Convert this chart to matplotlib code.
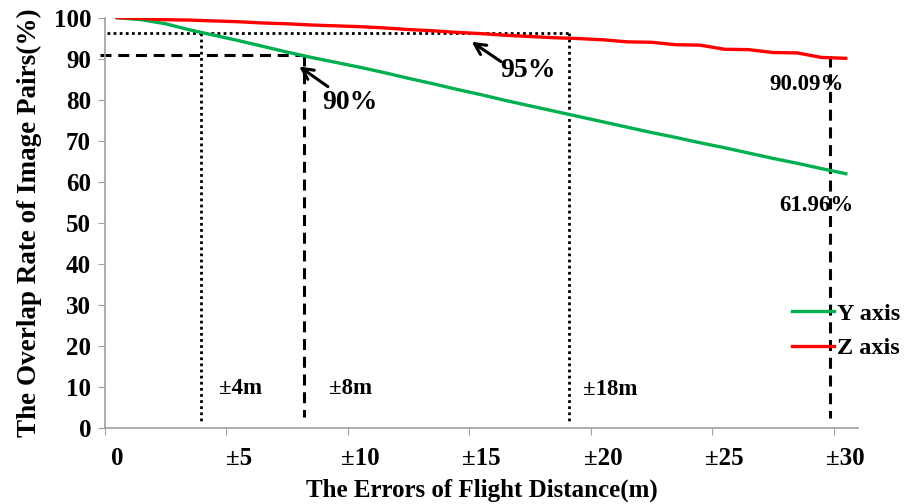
import numpy as np
import matplotlib
matplotlib.use("Agg")
import matplotlib.pyplot as plt

# flight distance errors (m), one category per metre
errors = np.arange(0, 31)
y_axis_rate = [100, 99.5, 98.5, 97.0, 95.7, 94.4, 93.0, 91.6, 90.3, 89.1, 87.9,
               86.6, 85.2, 83.9, 82.5, 81.2, 79.8, 78.5, 77.2, 75.9, 74.6,
               73.3, 72.0, 70.8, 69.5, 68.3, 67.0, 65.7, 64.5, 63.2, 61.96]
z_axis_rate = [100, 99.8, 99.5, 99.4, 99.2, 99.0, 98.7, 98.5, 98.2, 98.0, 97.8,
               97.5, 97.1, 96.8, 96.4, 96.1, 95.7, 95.4, 95.1, 94.9, 94.6,
               94.1, 94.0, 93.4, 93.3, 92.3, 92.2, 91.5, 91.4, 90.3, 90.09]
tick_vals = [0, 5, 10, 15, 20, 25, 30]
tick_labels = ['0', '±5', '±10', '±15', '±20', '±25', '±30']

plt.rcParams['font.family'] = ['Liberation Serif', 'DejaVu Serif']
plt.rcParams['font.weight'] = 'bold'
plt.rcParams['axes.labelweight'] = 'bold'

fig = plt.figure(figsize=(9.05, 5.04), dpi=100)
ax = fig.add_axes([0.116, 0.151, 0.832, 0.814])

ax.plot(errors, y_axis_rate, color='#00b050', lw=2.4, label='Y axis', zorder=3)
ax.plot(errors, z_axis_rate, color='#ff0000', lw=2.4, label='Z axis', zorder=3)

# guide lines
dot = dict(color='black', lw=2.0, linestyle=(0, (1, 1.2)), zorder=2)
dash = dict(color='black', lw=2.2, linestyle=(0, (3.6, 2.2)), zorder=2)
ax.plot([-0.42, 18.6], [96.3, 96.3], clip_on=False, **dot)
ax.plot([3.45, 3.45], [96.3, 1], **dot)
ax.plot([18.6, 18.6], [96.3, 1], **dot)
ax.plot([-0.7, 7.69], [91.0, 91.0], clip_on=False, **dash)
ax.plot([7.69, 7.69], [91.0, 2.7], **dash)
ax.plot([29.35, 29.35], [90.6, 2.5], **dash)

# annotations
arrow = dict(arrowstyle='->', color='black', lw=2.2, mutation_scale=20)
ax.annotate('', xy=(7.4, 88.5), xytext=(8.77, 82.8), arrowprops=arrow)
ax.annotate('', xy=(14.5, 94.5), xytext=(15.9, 88.9), arrowprops=arrow)
ax.text(9.6, 79.4, '90%', fontsize=20, ha='center', va='center')
ax.text(16.9, 87.2, '95%', fontsize=20, ha='center', va='center')
ax.text(28.4, 83.8, '90.09%', fontsize=16.5, ha='center', va='center')
ax.text(28.8, 54.3, '61.96%', fontsize=16.5, ha='center', va='center')
ax.text(5.1, 9.5, '±4m', fontsize=16.5, ha='center', va='center')
ax.text(9.6, 9.5, '±8m', fontsize=16.5, ha='center', va='center')
ax.text(20.3, 9.3, '±18m', fontsize=16.5, ha='center', va='center')

ax.set_xlim(-0.5, 30.5)
ax.set_ylim(0, 100)
ax.set_xticks(np.arange(-0.5, 30, 5))
ax.set_xticklabels([])
ax.set_xticks(tick_vals, minor=True)
ax.set_xticklabels(tick_labels, minor=True)
ax.tick_params(axis='x', which='minor', length=0, pad=14, labelsize=18)
ax.tick_params(axis='x', which='major', length=5, color='#a0a0a0', direction='out')
ax.set_yticks(np.arange(0, 101, 10))
ax.tick_params(axis='y', length=5, color='#a0a0a0', labelsize=18, pad=5)

for side in ['top', 'right']:
    ax.spines[side].set_visible(False)
for side in ['left', 'bottom']:
    ax.spines[side].set_color('#a0a0a0')
    ax.spines[side].set_linewidth(1.2)

ax.set_xlabel('The Errors of Flight Distance(m)', fontsize=18, labelpad=6)
ax.set_ylabel('The Overlap Rate of Image Pairs(%)', fontsize=19.5, labelpad=8)

leg = ax.legend(loc='center left', bbox_to_anchor=(0.912, 0.236), frameon=False,
                fontsize=17.5, handlelength=1.75, handletextpad=0.1,
                borderpad=0, borderaxespad=0, labelspacing=0.5)

fig.savefig('out.png', dpi=100)
